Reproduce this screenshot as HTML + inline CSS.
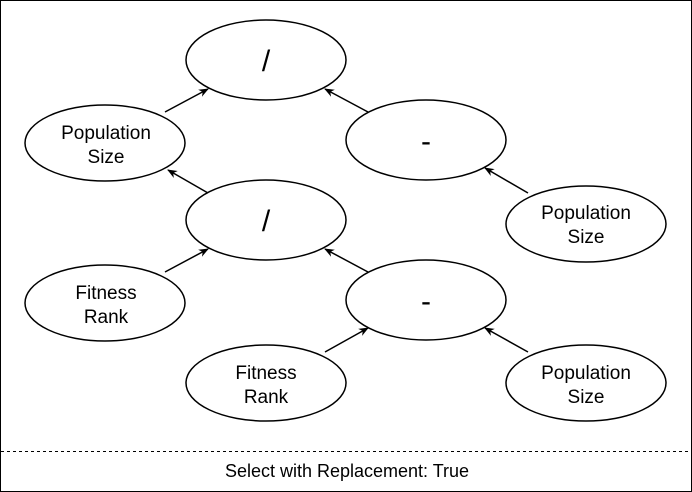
<!DOCTYPE html>
<html><head><style>
html,body{margin:0;padding:0;background:#fff;}
svg{display:block;}
text{font-family:"Liberation Sans",sans-serif;fill:#000;}
</style></head><body>
<svg width="692" height="492" viewBox="0 0 692 492" xmlns="http://www.w3.org/2000/svg">
<defs><marker id="a" markerWidth="10" markerHeight="10" refX="9" refY="5" orient="auto" markerUnits="userSpaceOnUse"><path d="M0,1 L10,5 L0,9 L3,5 Z" fill="#000"/></marker></defs>
<rect x="0.5" y="0.5" width="691" height="491" fill="#fff" stroke="#000"/>
<line x1="1" y1="451.5" x2="691" y2="451.5" stroke="#000" stroke-dasharray="3,3"/>
<text x="347" y="477" font-size="18" text-anchor="middle">Select with Replacement: True</text>
<g fill="#fff" stroke="#000" stroke-width="1.5">
<ellipse cx="266" cy="60" rx="80" ry="40"/>
<ellipse cx="105" cy="143" rx="80" ry="38"/>
<ellipse cx="426" cy="140" rx="80" ry="40"/>
<ellipse cx="266" cy="220" rx="80" ry="40"/>
<ellipse cx="586" cy="224" rx="80" ry="38"/>
<ellipse cx="105" cy="303" rx="80" ry="38"/>
<ellipse cx="426" cy="300" rx="80" ry="40"/>
<ellipse cx="266" cy="383" rx="80" ry="38"/>
<ellipse cx="586" cy="383" rx="80" ry="38"/>
</g>
<g stroke="#000" stroke-width="1.5" marker-end="url(#a)">
<line x1="165" y1="112" x2="208" y2="89"/>
<line x1="368" y1="112" x2="325" y2="89"/>
<line x1="528" y1="193" x2="485" y2="168"/>
<line x1="208" y1="193" x2="168" y2="170"/>
<line x1="165" y1="272" x2="208" y2="249"/>
<line x1="368" y1="272" x2="325" y2="249"/>
<line x1="528" y1="352" x2="485" y2="328"/>
<line x1="325" y1="352" x2="368" y2="328"/>
</g>
<g font-size="30" text-anchor="middle">
<text x="266" y="71">/</text>
<text x="426" y="151">-</text>
<text x="266" y="231">/</text>
<text x="426" y="311">-</text>
</g>
<g font-size="19" text-anchor="middle">
<text x="106" y="139">Population</text><text x="106" y="163">Size</text>
<text x="586" y="219">Population</text><text x="586" y="243">Size</text>
<text x="106" y="299">Fitness</text><text x="106" y="323">Rank</text>
<text x="266" y="379">Fitness</text><text x="266" y="403">Rank</text>
<text x="586" y="379">Population</text><text x="586" y="403">Size</text>
</g>
</svg>
</body></html>
